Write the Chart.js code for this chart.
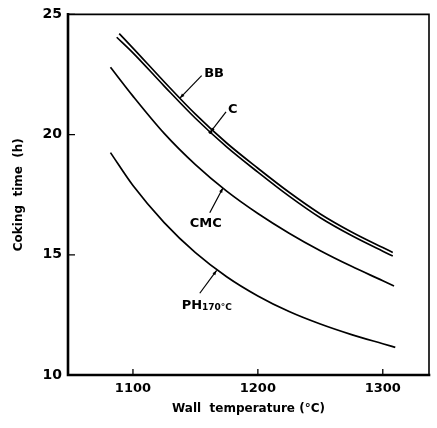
<!DOCTYPE html>
<html>
<head>
<meta charset="utf-8">
<script src="https://cdn.jsdelivr.net/npm/chart.js@4/dist/chart.umd.min.js"></script>
<style>
  html, body { margin: 0; padding: 0; background: #fff; }
</style>
</head>
<body>
<canvas id="chart" width="437" height="428"></canvas>
<script>
// Values
var bbTemp  = [1089, 1100, 1125, 1150, 1175, 1200, 1225, 1250, 1275, 1300, 1308];
var bbTime  = [24.2, 23.6, 22.2, 20.85, 19.65, 18.6, 17.6, 16.7, 15.95, 15.3, 15.1];
var cTemp   = [1087, 1100, 1125, 1150, 1175, 1200, 1225, 1250, 1275, 1300, 1308];
var cTime   = [24.05, 23.4, 22.02, 20.68, 19.49, 18.44, 17.44, 16.54, 15.8, 15.15, 14.95];
var cmcTemp = [1082, 1100, 1125, 1150, 1175, 1200, 1225, 1250, 1275, 1300, 1309];
var cmcTime = [22.8, 21.6, 20.05, 18.75, 17.65, 16.72, 15.9, 15.17, 14.52, 13.92, 13.7];
var phTemp  = [1082, 1100, 1125, 1150, 1175, 1200, 1225, 1250, 1275, 1300, 1310];
var phTime  = [19.25, 17.88, 16.34, 15.09, 14.09, 13.29, 12.64, 12.12, 11.68, 11.3, 11.15];

var xTicks = [1100, 1200, 1300];
var yTicks = [10, 15, 20, 25];

var FONT = '"DejaVu Sans", Verdana, sans-serif';

// Curve labels with their pointer lines (data units)
var notes = [
    {text: 'BB',  x: 1157, y: 22.55, from: [1155, 22.45], to: [1137.6, 21.52]},
    {text: 'C',   x: 1176, y: 21.05, from: [1174.5, 20.95], to: [1162, 20.1], dot: true},
    {text: 'CMC', x: 1145.5, y: 16.3, from: [1161.5, 16.75], to: [1172, 17.78]},
    {text: 'PH',  sub: '170°C', x: 1139, y: 12.9, from: [1153.5, 13.4], to: [1167, 14.35]}
];

function series(xs, ys) {
    return xs.map(function (x, i) { return {x: x, y: ys[i]}; });
}

function line(xs, ys) {
    return {
        data: series(xs, ys),
        showLine: true,
        borderColor: '#000',
        borderWidth: 1.7,
        pointRadius: 0,
        cubicInterpolationMode: 'monotone'
    };
}

/**
 * Frame, inward ticks and curve labels.
 */
var decor = {
    id: 'decor',
    afterDraw: function (chart) {
        var ctx = chart.ctx;
        var a = chart.chartArea;
        var xs = chart.scales.x;
        var ys = chart.scales.y;

        ctx.save();
        ctx.strokeStyle = '#000';
        ctx.lineCap = 'square';

        ctx.lineWidth = 1.6;
        ctx.beginPath();
        ctx.moveTo(a.left, a.top);
        ctx.lineTo(a.right, a.top);
        ctx.lineTo(a.right, a.bottom);
        ctx.stroke();

        ctx.lineWidth = 2.6;
        ctx.beginPath();
        ctx.moveTo(a.left, a.top);
        ctx.lineTo(a.left, a.bottom);
        ctx.lineTo(a.right, a.bottom);
        ctx.stroke();

        // Inward tick marks
        ctx.lineWidth = 1.3;
        ctx.lineCap = 'butt';
        ctx.beginPath();
        xTicks.forEach(function (v) {
            var px = xs.getPixelForValue(v);
            ctx.moveTo(px, a.bottom);
            ctx.lineTo(px, a.bottom - 6);
        });
        yTicks.forEach(function (v) {
            var py = ys.getPixelForValue(v);
            ctx.moveTo(a.left, py);
            ctx.lineTo(a.left + 7, py);
        });
        ctx.stroke();

        // Labels and pointers
        ctx.fillStyle = '#000';
        ctx.textBaseline = 'middle';
        ctx.textAlign = 'left';
        notes.forEach(function (n) {
            var tx = xs.getPixelForValue(n.x);
            var ty = ys.getPixelForValue(n.y);
            ctx.font = 'bold 13px ' + FONT;
            ctx.fillText(n.text, tx, ty);
            if (n.sub) {
                var w = ctx.measureText(n.text).width;
                ctx.font = 'bold 9px ' + FONT;
                ctx.fillText(n.sub, tx + w, ty + 2);
            }

            var x1 = xs.getPixelForValue(n.from[0]), y1 = ys.getPixelForValue(n.from[1]);
            var x2 = xs.getPixelForValue(n.to[0]), y2 = ys.getPixelForValue(n.to[1]);
            ctx.lineWidth = 1.2;
            ctx.beginPath();
            ctx.moveTo(x1, y1);
            ctx.lineTo(x2, y2);
            ctx.stroke();

            // Arrow head
            var ang = Math.atan2(y2 - y1, x2 - x1);
            ctx.beginPath();
            ctx.moveTo(x2, y2);
            ctx.lineTo(x2 - 5 * Math.cos(ang - 0.35), y2 - 5 * Math.sin(ang - 0.35));
            ctx.lineTo(x2 - 5 * Math.cos(ang + 0.35), y2 - 5 * Math.sin(ang + 0.35));
            ctx.closePath();
            ctx.fill();
            if (n.dot) {
                ctx.beginPath();
                ctx.arc(x2, y2, 1.8, 0, Math.PI * 2);
                ctx.fill();
            }
        });
        ctx.restore();
    }
};

new Chart(document.getElementById('chart'), {
    type: 'scatter',
    data: {
        datasets: [
            line(bbTemp, bbTime),
            line(cTemp, cTime),
            line(cmcTemp, cmcTime),
            line(phTemp, phTime)
        ]
    },
    options: {
        responsive: false,
        animation: false,
        devicePixelRatio: 1,
        layout: {padding: {top: 13, right: 8, left: 0, bottom: 0}},
        plugins: {
            legend: {display: false},
            tooltip: {enabled: false}
        },
        scales: {
            x: {
                type: 'linear',
                min: 1048,
                max: 1337,
                afterBuildTicks: function (scale) {
                    scale.ticks = xTicks.map(function (v) { return {value: v}; });
                },
                afterFit: function (scale) { scale.height = 53; },
                grid: {display: false, drawTicks: false},
                border: {display: false},
                ticks: {
                    color: '#000',
                    padding: 6,
                    maxRotation: 0,
                    font: {family: FONT, size: 13, weight: 'bold'},
                    callback: function (v) { return String(v); }
                },
                title: {
                    display: true,
                    text: 'Wall  temperature (°C)',
                    color: '#000',
                    font: {family: FONT, size: 12, weight: 'bold'},
                    padding: {top: 0, bottom: 12}
                }
            },
            y: {
                min: 10,
                max: 25,
                afterBuildTicks: function (scale) {
                    scale.ticks = yTicks.map(function (v) { return {value: v}; });
                },
                afterFit: function (scale) { scale.width = 68; },
                grid: {display: false, drawTicks: false},
                border: {display: false},
                ticks: {
                    color: '#000',
                    padding: 6,
                    font: {family: FONT, size: 14, weight: 'bold'}
                },
                title: {
                    display: true,
                    text: 'Coking  time  (h)',
                    color: '#000',
                    font: {family: FONT, size: 12, weight: 'bold'},
                    padding: {top: 12, bottom: 0}
                }
            }
        }
    },
    plugins: [decor]
});
</script>
</body>
</html>
